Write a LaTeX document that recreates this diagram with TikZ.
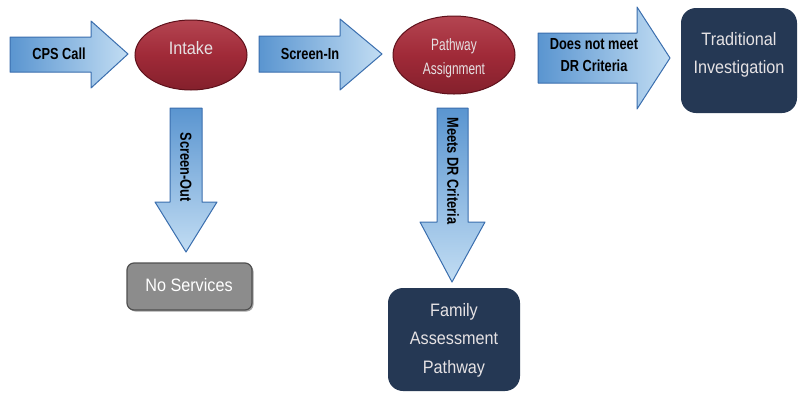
\documentclass[tikz,border=0pt]{standalone}
\usepackage{fontspec}
\setmainfont{Liberation Sans}
\newfontfamily\arrowfont[FakeStretch=0.8]{Liberation Sans}
\newfontfamily\labelfont[FakeStretch=0.9]{Liberation Sans}
\newfontfamily\ovalfont[FakeStretch=0.72]{Liberation Sans}
\usetikzlibrary{shapes.geometric,shadows}
\definecolor{navy}{HTML}{253854}
\definecolor{arrowedge}{HTML}{3A6EAE}
\definecolor{arrowdark}{HTML}{5A95D0}
\definecolor{arrowlight}{HTML}{C2DDF3}
\definecolor{redmid}{HTML}{A02A38}
\definecolor{redtop}{HTML}{B44551}
\definecolor{redbot}{HTML}{84202C}
\definecolor{rededge}{HTML}{5E111B}
\definecolor{greybox}{HTML}{8C8C8C}
\definecolor{greyedge}{HTML}{505050}
\definecolor{pale}{HTML}{E6E2E4}
\begin{document}
\begin{tikzpicture}[x=1pt,y=-1pt,
  harrow/.style={draw=arrowedge,line width=1pt,line join=round,left color=arrowdark,right color=arrowlight},
  varrow/.style={draw=arrowedge,line width=1pt,line join=round,top color=arrowdark,bottom color=arrowlight},
  arrowtext/.style={font=\arrowfont\bfseries\fontsize{16}{22}\selectfont,text=black,align=center,inner sep=0pt},
  redoval/.style={ellipse,draw=rededge,line width=1pt,top color=redtop,bottom color=redbot,middle color=redmid,inner sep=0pt},
  ovaltext/.style={font=\ovalfont\fontsize{16.5}{24}\selectfont,text=pale,align=center,inner sep=0pt},
  navybox/.style={fill=navy,rounded corners=15pt},
  boxtext/.style={font=\labelfont\fontsize{18}{28.5}\selectfont,text=pale,align=center,inner sep=0pt},
  greyrect/.style={fill=greybox,draw=greyedge,line width=1.2pt,rounded corners=7pt,drop shadow={shadow xshift=1.5pt,shadow yshift=-1.5pt,fill=black!60,opacity=0.6}}]
\useasboundingbox (0,0) rectangle (798,392);
\fill[white] (0,0) rectangle (798,392);

% nodes
\node[redoval,minimum width=112pt,minimum height=70pt] (intake) at (191,55) {};
\node[ovaltext,font=\labelfont\fontsize{18}{24}\selectfont] (intaketxt) at (191,48) {Intake};
\node[redoval,minimum width=122pt,minimum height=78pt] (pathway) at (454,55) {};
\node[ovaltext] (pathwaytxt) at (454,58) {Pathway\\Assignment};

\fill[navybox] (681,8) rectangle (797,113);
\node[boxtext] (trad) at (739,55) {Traditional\\Investigation};
\fill[navybox] (388,288) rectangle (520,391);
\node[boxtext] (family) at (454,340) {Family\\Assessment\\Pathway};
\draw[greyrect] (127,263) rectangle (252,310);
\node[boxtext,text=white] (nos) at (189,285) {No Services};

% block arrows
\draw[harrow] (10,37) -- (91,37) -- (91,21) -- (128,54) -- (91,88) -- (91,72) -- (10,72) -- cycle;
\node[arrowtext] (cps) at (59,54) {CPS Call};
\draw[harrow] (259,36) -- (340,36) -- (340,19) -- (382,54) -- (340,90) -- (340,72) -- (259,72) -- cycle;
\node[arrowtext] (screenin) at (310,54) {Screen-In};
\draw[harrow] (538,33) -- (637,33) -- (637,7) -- (670,58) -- (637,109) -- (637,83) -- (538,83) -- cycle;
\node[arrowtext] (notmeet) at (594,55) {Does not meet\\DR Criteria};
\draw[varrow] (170,108) -- (202,108) -- (202,202) -- (217,202) -- (186,252) -- (155,202) -- (170,202) -- cycle;
\node[arrowtext,rotate=-90] (screenout) at (186,167) {Screen-Out};
\draw[varrow] (437,108) -- (468,108) -- (468,222) -- (485,222) -- (452,282) -- (420,222) -- (437,222) -- cycle;
\node[arrowtext,rotate=-90] (meets) at (453,171) {Meets DR Criteria};
\end{tikzpicture}
\end{document}
